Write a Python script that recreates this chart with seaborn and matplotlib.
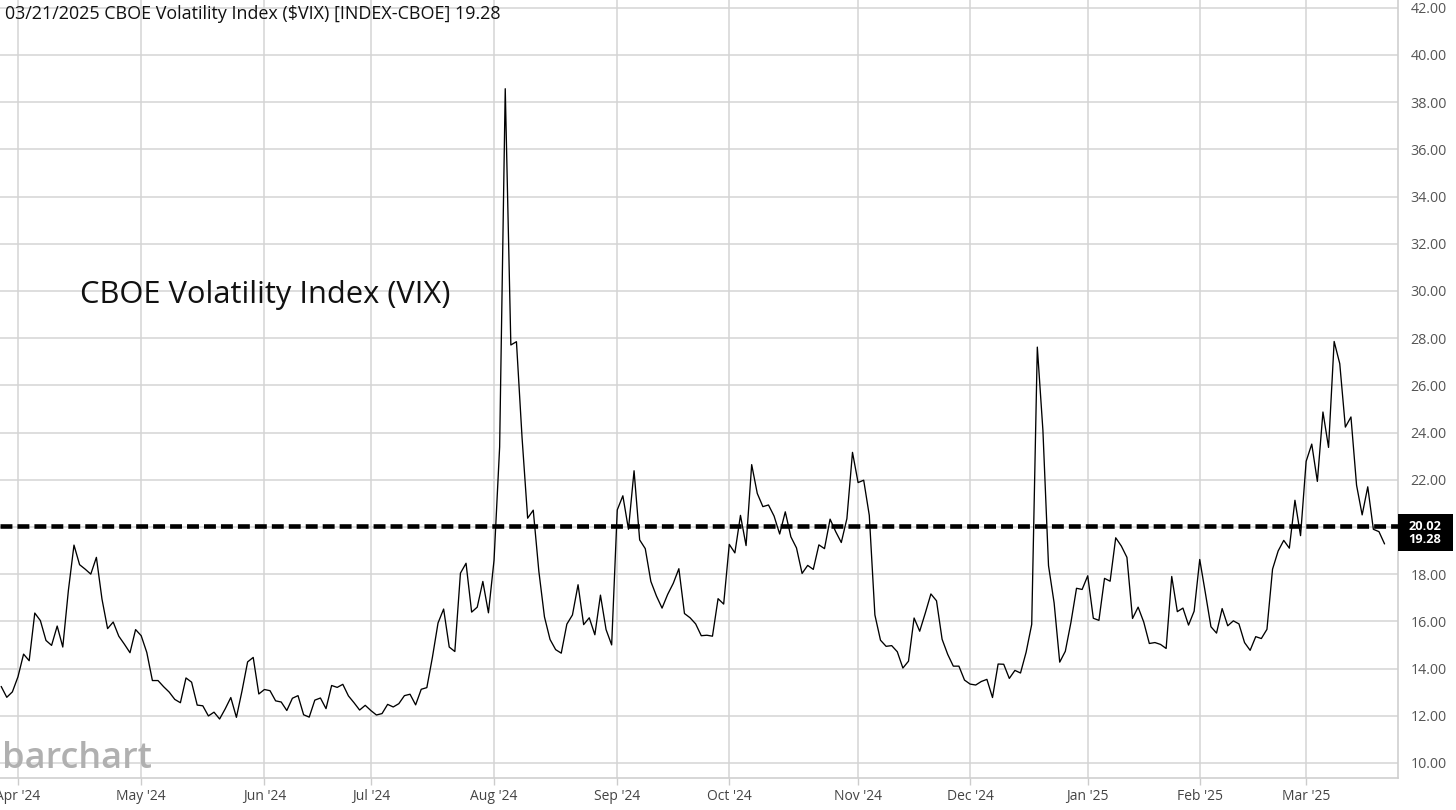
import numpy as np
import pandas as pd
import matplotlib
matplotlib.use("Agg")
import matplotlib.pyplot as plt
from matplotlib.patches import Rectangle
import seaborn as sns

# ---- data: daily VIX closes (trading days) ----
vix_2024_03 = [13.24, 12.78, 13.01]
vix_2024_04 = [13.65, 14.61, 14.33, 16.35, 16.03, 15.19, 14.98, 15.80, 14.91, 17.31, 19.23,
               18.40, 18.21, 18.00, 18.71, 16.94, 15.69, 15.97, 15.37, 15.03, 14.67, 15.65]
vix_2024_05 = [15.39, 14.68, 13.49, 13.49, 13.23, 13.00, 12.69, 12.55, 13.60, 13.42, 12.45,
               12.42, 11.99, 12.15, 11.86, 12.29, 12.77, 11.93, 13.05, 14.28, 14.47, 12.92]
vix_2024_06 = [13.11, 13.06, 12.63, 12.58, 12.22, 12.74, 12.85, 12.04, 11.94, 12.66, 12.75,
               12.30, 13.28, 13.20, 13.33, 12.84, 12.55, 12.24, 12.44]
vix_2024_07 = [12.22, 12.03, 12.09, 12.48, 12.37, 12.51, 12.85, 12.91, 12.46, 13.12, 13.19,
               14.48, 15.93, 16.52, 14.91, 14.72, 18.04, 18.46, 16.39, 16.60, 17.69, 16.36]
vix_2024_08 = [18.59, 23.39, 38.57, 27.71, 27.85, 23.79, 20.37, 20.71, 18.12, 16.19, 15.23,
               14.80, 14.65, 15.88, 16.27, 17.55, 15.86, 16.15, 15.43, 17.11, 15.65, 15.00]
vix_2024_09 = [20.72, 21.32, 19.90, 22.38, 19.45, 19.08, 17.69, 17.07, 16.56, 17.14, 17.61,
               18.23, 16.33, 16.15, 15.89, 15.39, 15.41, 15.37, 16.96, 16.73]
vix_2024_10 = [19.26, 18.90, 20.49, 19.21, 22.64, 21.42, 20.86, 20.93, 20.46, 19.70, 20.64,
               19.58, 19.11, 18.03, 18.37, 18.20, 19.24, 19.08, 20.33, 19.80, 19.34, 20.35, 23.16]
vix_2024_11 = [21.88, 21.98, 20.49, 16.27, 15.20, 14.94, 14.97, 14.71, 14.02, 14.31, 16.14,
               15.58, 16.35, 17.16, 16.87, 15.24, 14.60, 14.10, 14.10, 13.51]
vix_2024_12 = [13.34, 13.30, 13.45, 13.54, 12.77, 14.19, 14.18, 13.58, 13.92, 13.81, 14.69,
               15.87, 27.62, 24.09, 18.36, 16.78, 14.27, 14.73, 15.95, 17.40, 17.35]
vix_2025_01 = [17.93, 16.13, 16.04, 17.82, 17.70, 19.54, 19.19, 18.71, 16.12, 16.60, 15.97,
               15.06, 15.10, 15.02, 14.85, 17.90, 16.41, 16.56, 15.84, 16.43]
vix_2025_02 = [18.62, 17.21, 15.77, 15.50, 16.54, 15.81, 16.02, 15.89, 15.10, 14.77, 15.35,
               15.27, 15.66, 18.21, 18.98, 19.43, 19.10, 21.13, 19.63]
vix_2025_03 = [22.78, 23.51, 21.93, 24.87, 23.37, 27.86, 26.92, 24.23, 24.66, 21.77, 20.51,
               21.70, 19.90, 19.80, 19.28]

market_holidays = ["2024-03-29", "2024-05-27", "2024-06-19", "2024-07-04", "2024-09-02",
                   "2024-11-28", "2024-12-25", "2025-01-01", "2025-01-09", "2025-01-20",
                   "2025-02-17"]
start_date, end_date = "2024-03-26", "2025-03-21"
ref_level = 20.02
y_ticks = [10, 12, 14, 16, 18, 20, 22, 24, 26, 28, 30, 32, 34, 36, 38, 40, 42]

title_text = "03/21/2025 CBOE Volatility Index ($VIX) [INDEX-CBOE] 19.28"
label_text = "CBOE Volatility Index (VIX)"

values = (vix_2024_03 + vix_2024_04 + vix_2024_05 + vix_2024_06 + vix_2024_07 + vix_2024_08 +
          vix_2024_09 + vix_2024_10 + vix_2024_11 + vix_2024_12 + vix_2025_01 + vix_2025_02 +
          vix_2025_03)
dates = pd.bdate_range(start_date, end_date, freq="C", holidays=market_holidays)
n = min(len(dates), len(values))
df = pd.DataFrame({"i": np.arange(n), "date": dates[:n], "vix": values[:n]})

# ---- style ----
sns.set_theme(style="white")
plt.rcParams["font.family"] = ["Open Sans", "DejaVu Sans"]

W, H = 1456, 810
fig = plt.figure(figsize=(W / 100, H / 100), dpi=100)
ax_left, ax_right, ax_bottom, ax_top = 0, 1398, 778, 0
ax = fig.add_axes([ax_left / W, 1 - ax_bottom / H, (ax_right - ax_left) / W, (ax_bottom - ax_top) / H])

sns.lineplot(data=df, x="i", y="vix", ax=ax, color="black", linewidth=0.95, zorder=3)
ref = ax.axhline(ref_level, color="black", linewidth=3.3, zorder=4)
ref.set_dashes((2.6, 1.1))

ax.set_xlim(-0.21, 249.4)
ax.set_ylim(9.36, 42.33)

# month ticks
month_first = df.groupby(df["date"].dt.to_period("M"))["i"].min()
month_first = month_first[month_first.index >= pd.Period("2024-04", "M")]
ax.set_xticks(month_first.values)
ax.set_xticklabels([p.strftime("%b '%y") for p in month_first.index], fontsize=10, color="#444444")

ax.yaxis.tick_right()
ax.set_yticks(y_ticks)
# the 20.00 label sits under the price tag in the reference, so it is left blank
ax.set_yticklabels(["" if v == 20 else f"{v:.2f}" for v in y_ticks], fontsize=10.3, color="#555555")
ax.tick_params(axis="y", length=0, pad=9)
ax.tick_params(axis="x", length=5, width=1, color="#cccccc", pad=3, bottom=True)

ax.grid(True, color="#d4d4d4", linewidth=1.1)
ax.set_axisbelow(True)
ax.set_xlabel("")
ax.set_ylabel("")
for s in ["left", "top"]:
    ax.spines[s].set_visible(False)
for s in ["right", "bottom"]:
    ax.spines[s].set_color("#cfcfcf")
    ax.spines[s].set_linewidth(1.2)

# title and chart label
fig.text(5 / W, 1 - 14 / H, title_text, fontsize=12.9, color="#111111", va="center", ha="left")
fig.text(80 / W, 1 - 295 / H, label_text, fontsize=22.2, color="#111111", va="center", ha="left")

# watermark
fig.text(2 / W, 1 - 768 / H, "barchart", fontsize=26, color="#b0b0b0", fontweight="semibold",
         va="baseline", ha="left")

# price tags on the right axis (reference level and last close, stacked)
fig.patches.append(Rectangle((1398 / W, 1 - 551 / H), 55 / W, 37 / H, transform=fig.transFigure,
                             facecolor="black", edgecolor="none", zorder=5))
fig.text(1425 / W, 1 - 533 / H, f"{ref_level:.2f}\n{df['vix'].iloc[-1]:.2f}", fontsize=9.2,
         color="white", fontweight="bold", ha="center", va="center", linespacing=1.05, zorder=6)

fig.savefig("out.png", dpi=100)
